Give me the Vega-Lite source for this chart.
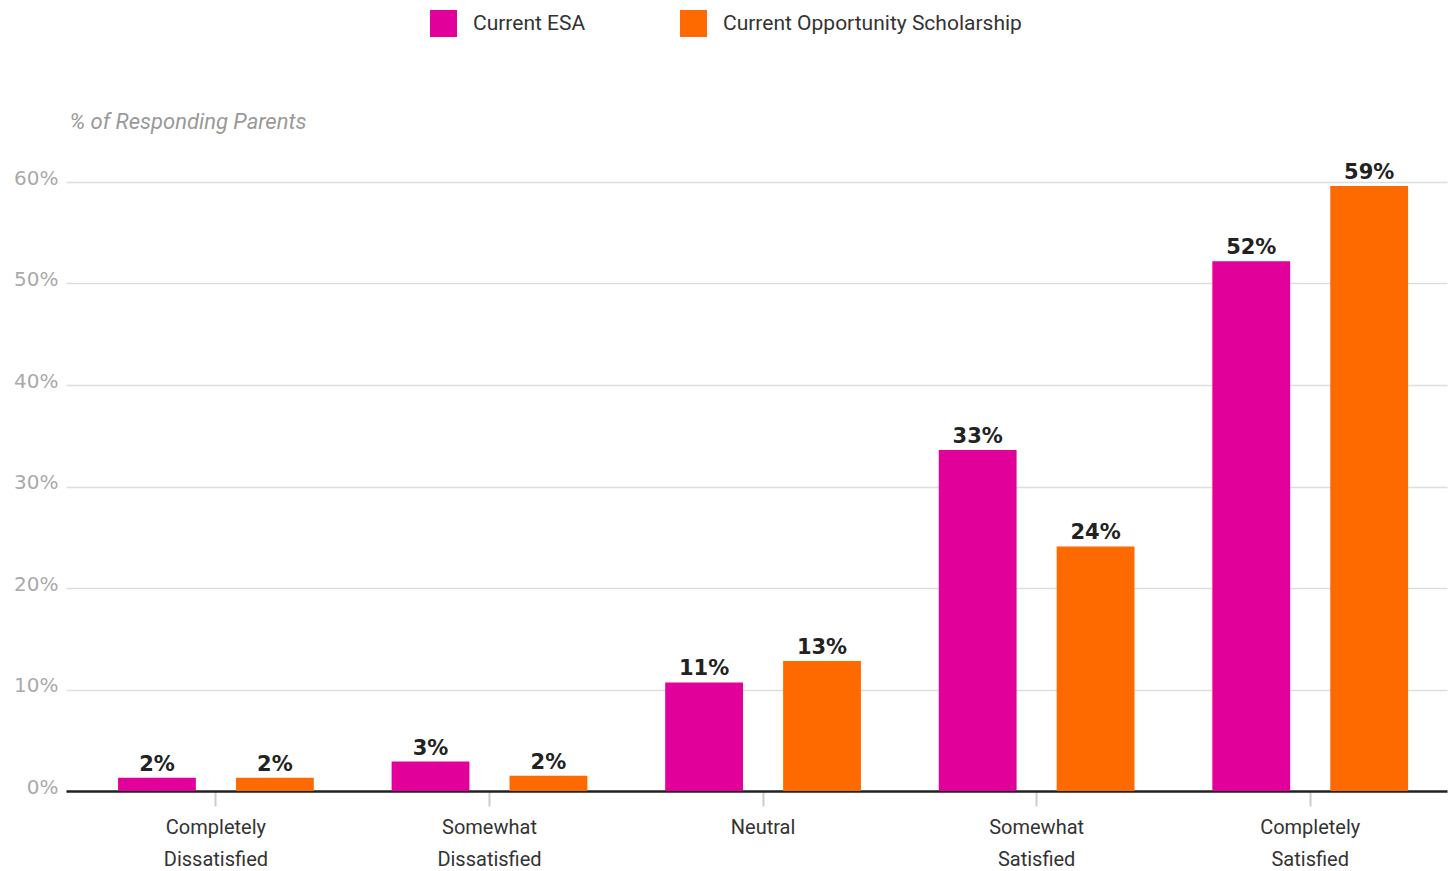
{
  "$schema": "https://vega.github.io/schema/vega-lite/v6.json",
  "autosize": "none",
  "width": 1381,
  "height": 609,
  "padding": {"left": 66, "top": 182, "right": 6, "bottom": 80},
  "background": "white",
  "config": {
    "view": {"stroke": null},
    "font": "Roboto"
  },
  "data": {
    "values": [
      {"category": "Completely Dissatisfied", "series": "Current ESA", "value": 1.3, "label": "2%"},
      {"category": "Completely Dissatisfied", "series": "Current Opportunity Scholarship", "value": 1.3, "label": "2%"},
      {"category": "Somewhat Dissatisfied", "series": "Current ESA", "value": 2.9, "label": "3%"},
      {"category": "Somewhat Dissatisfied", "series": "Current Opportunity Scholarship", "value": 1.5, "label": "2%"},
      {"category": "Neutral", "series": "Current ESA", "value": 10.7, "label": "11%"},
      {"category": "Neutral", "series": "Current Opportunity Scholarship", "value": 12.8, "label": "13%"},
      {"category": "Somewhat Satisfied", "series": "Current ESA", "value": 33.6, "label": "33%"},
      {"category": "Somewhat Satisfied", "series": "Current Opportunity Scholarship", "value": 24.1, "label": "24%"},
      {"category": "Completely Satisfied", "series": "Current ESA", "value": 52.2, "label": "52%"},
      {"category": "Completely Satisfied", "series": "Current Opportunity Scholarship", "value": 59.6, "label": "59%"}
    ]
  },
  "encoding": {
    "x": {
      "field": "category",
      "type": "nominal",
      "sort": ["Completely Dissatisfied", "Somewhat Dissatisfied", "Neutral", "Somewhat Satisfied", "Completely Satisfied"],
      "scale": {"paddingInner": 0, "paddingOuter": 0.024, "align": 1},
      "axis": {
        "title": null,
        "labelAngle": 0,
        "labelExpr": "split(datum.label, ' ')",
        "labelFontSize": 20,
        "labelColor": "#333333",
        "labelLineHeight": 32,
        "labelPadding": 11,
        "labelBaseline": "top",
        "domainColor": "#222222",
        "domainWidth": 2.5,
        "tickColor": "#cccccc",
        "tickWidth": 2,
        "tickSize": 15,
        "grid": false
      }
    },
    "xOffset": {
      "field": "series",
      "type": "nominal",
      "sort": ["Current ESA", "Current Opportunity Scholarship"],
      "scale": {"paddingInner": 0.34, "paddingOuter": 0.33}
    },
    "y": {
      "field": "value",
      "type": "quantitative",
      "scale": {"domain": [0, 60]},
      "axis": {
        "title": "% of Responding Parents",
        "titleAngle": 0,
        "titleAlign": "left",
        "titleBaseline": "alphabetic",
        "titleX": 3,
        "titleY": -54,
        "titleFontSize": 22,
        "titleFontStyle": "italic",
        "titleFontWeight": "normal",
        "titleColor": "#999999",
        "values": [0, 10, 20, 30, 40, 50, 60],
        "labelExpr": "datum.value + '%'",
        "labelFont": "DejaVu Sans",
        "labelFontSize": 20,
        "labelColor": "#aaaaaa",
        "labelPadding": 8,
        "labelBaseline": "middle",
        "labelOffset": -4,
        "domain": false,
        "ticks": false,
        "gridColor": "#dddddd",
        "gridWidth": 1.5
      }
    }
  },
  "layer": [
    {
      "mark": {"type": "bar"},
      "encoding": {
        "color": {
          "field": "series",
          "type": "nominal",
          "scale": {
            "domain": ["Current ESA", "Current Opportunity Scholarship"],
            "range": ["#e2009a", "#ff6a00"]
          },
          "legend": {
            "title": null,
            "orient": "none",
            "direction": "horizontal",
            "legendX": 364,
            "legendY": -172,
            "padding": 0,
            "symbolType": "square",
            "symbolSize": 729,
            "symbolStrokeWidth": 0,
            "symbolOpacity": 1,
            "labelFontSize": 21,
            "labelColor": "#333333",
            "labelOffset": 16,
            "labelBaseline": "middle",
            "columnPadding": 94,
            "labelLimit": 400
          }
        }
      }
    },
    {
      "mark": {"type": "text", "dy": -7, "baseline": "alphabetic", "font": "DejaVu Sans", "fontSize": 21, "fontWeight": "bold", "color": "#222222"},
      "encoding": {
        "text": {"field": "label", "type": "nominal"}
      }
    }
  ]
}
